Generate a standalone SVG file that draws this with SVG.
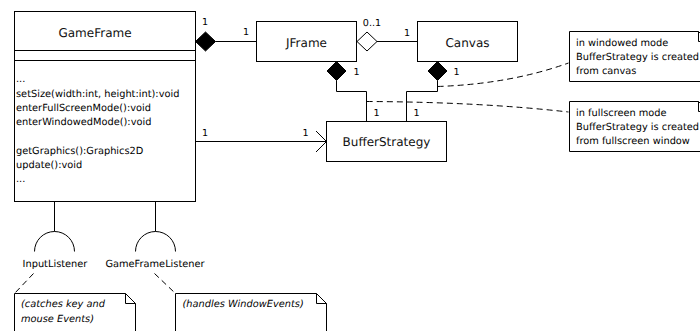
<svg xmlns="http://www.w3.org/2000/svg" width="700" height="331" viewBox="0 0 700 331">
  <defs>
    <style>
      .box { fill: #fff; stroke: #000; stroke-width: 1; }
      .line { fill: none; stroke: #000; stroke-width: 1; }
      .dash { fill: none; stroke: #000; stroke-width: 1; stroke-dasharray: 6 4; }
      .filled { fill: #000; stroke: #000; stroke-width: 1; }
      .hollow { fill: #fff; stroke: #000; stroke-width: 1; }
      text { font-family: "DejaVu Sans", Verdana, sans-serif; font-weight: normal; fill: #000; text-rendering: geometricPrecision; }
      .title { font-size: 12px; text-anchor: middle; fill: #111; }
      .small { font-size: 9.8px; }
      .mult { font-size: 9.6px; text-anchor: middle; }
      .mid { text-anchor: middle; }
      .it { font-style: italic; }
    </style>
  </defs>
  <rect width="700" height="331" fill="#fff"/>

  <!-- connectors -->
  <g id="connectors">
    <!-- GameFrame composes JFrame -->
    <polygon class="filled" points="195.5,41.5 205.5,32 215.5,41.5 205.5,51"/>
    <path class="line" d="M215.5,41.5 H256.5"/>
    <text class="mult" x="205" y="25">1</text>
    <text class="mult" x="246" y="35">1</text>

    <!-- JFrame aggregates Canvas -->
    <polygon class="hollow" points="357,41.5 367,32 377,41.5 367,51"/>
    <path class="line" d="M377,41.5 H417.5"/>
    <text class="mult" x="372" y="26">0..1</text>
    <text class="mult" x="407" y="35.5">1</text>

    <!-- JFrame composes BufferStrategy -->
    <polygon class="filled" points="336.5,61.5 346,71 336.5,80.5 327,71"/>
    <path class="line" d="M336.5,80.5 V91.5 H366.5 V121.5"/>
    <text class="mult" x="356.5" y="74.5">1</text>
    <text class="mult" x="376.5" y="116">1</text>

    <!-- Canvas composes BufferStrategy -->
    <polygon class="filled" points="437.5,61.5 447,71 437.5,80.5 428,71"/>
    <path class="line" d="M437.5,80.5 V91.5 H406.5 V121.5"/>
    <text class="mult" x="456.5" y="75">1</text>
    <text class="mult" x="416.5" y="116">1</text>

    <!-- GameFrame navigates to BufferStrategy -->
    <path class="line" d="M195.5,141.5 H326.5"/>
    <path class="line" d="M316,131 L326.5,141.5 L316,152"/>
    <text class="mult" x="205" y="135.5">1</text>
    <text class="mult" x="305.5" y="135.5">1</text>

    <!-- note anchors -->
    <path class="dash" d="M437.5,86.5 Q510,84 568.5,63"/>
    <path class="dash" d="M366.5,101.5 Q480,102 568.5,112"/>
    <path class="dash" d="M33.5,273.5 L14.5,293.5"/>
    <path class="dash" d="M154.5,273.5 L175.5,293.5"/>

    <!-- required interfaces (sockets) -->
    <path class="line" d="M54.5,201.5 V231.5 M34.5,251.5 A20,20 0 0 1 74.5,251.5"/>
    <path class="line" d="M155.5,201.5 V231.5 M135.5,251.5 A20,20 0 0 1 175.5,251.5"/>
    <text class="small mid" x="55" y="267">InputListener</text>
    <text class="small mid" x="155" y="267">GameFrameListener</text>
  </g>

  <!-- GameFrame class -->
  <g id="GameFrame">
    <rect class="box" x="14.5" y="11.5" width="181" height="190"/>
    <path class="line" d="M14.5,50.5 H195.5 M14.5,60.5 H195.5"/>
    <text class="title" x="95" y="36.5">GameFrame</text>
    <text class="small" x="16" y="82.3">...</text>
    <text class="small" x="16" y="96.6">setSize(width:int, height:int):void</text>
    <text class="small" x="16" y="110.9">enterFullScreenMode():void</text>
    <text class="small" x="16" y="125.2">enterWindowedMode():void</text>
    <text class="small" x="16" y="153.8">getGraphics():Graphics2D</text>
    <text class="small" x="16" y="168.1">update():void</text>
    <text class="small" x="16" y="182.4">...</text>
  </g>

  <g id="JFrame">
    <rect class="box" x="256.5" y="21.5" width="100" height="40"/>
    <text class="title" x="306.5" y="46.5">JFrame</text>
  </g>

  <g id="Canvas">
    <rect class="box" x="417.5" y="21.5" width="100" height="40"/>
    <text class="title" x="467.5" y="46.5">Canvas</text>
  </g>

  <g id="BufferStrategy">
    <rect class="box" x="326.5" y="121.5" width="120" height="40"/>
    <text class="title" x="386.5" y="146">BufferStrategy</text>
  </g>

  <!-- notes -->
  <g id="note-windowed">
    <path class="box" d="M569.5,31.5 H698.5 L708.5,41.5 V81.5 H569.5 Z"/>
    <path class="line" d="M698.5,31.5 V41.5 H708.5"/>
    <text class="small" x="576" y="46">in windowed mode</text>
    <text class="small" x="576" y="60">BufferStrategy is created</text>
    <text class="small" x="576" y="74">from canvas</text>
  </g>

  <g id="note-fullscreen">
    <path class="box" d="M569.5,101.5 H698.5 L708.5,111.5 V151.5 H569.5 Z"/>
    <path class="line" d="M698.5,101.5 V111.5 H708.5"/>
    <text class="small" x="576" y="116">in fullscreen mode</text>
    <text class="small" x="576" y="130">BufferStrategy is created</text>
    <text class="small" x="576" y="144">from fullscreen window</text>
  </g>

  <g id="note-input">
    <path class="box" d="M14.5,293.5 H125.5 L135.5,303.5 V345 H14.5 Z"/>
    <path class="line" d="M125.5,293.5 V303.5 H135.5"/>
    <text class="small it" x="21" y="307">(catches key and</text>
    <text class="small it" x="21" y="321.5">mouse Events)</text>
  </g>

  <g id="note-gameframe">
    <path class="box" d="M175.5,293.5 H316.5 L326.5,303.5 V345 H175.5 Z"/>
    <path class="line" d="M316.5,293.5 V303.5 H326.5"/>
    <text class="small it" x="182.5" y="307">(handles WindowEvents)</text>
  </g>
</svg>
